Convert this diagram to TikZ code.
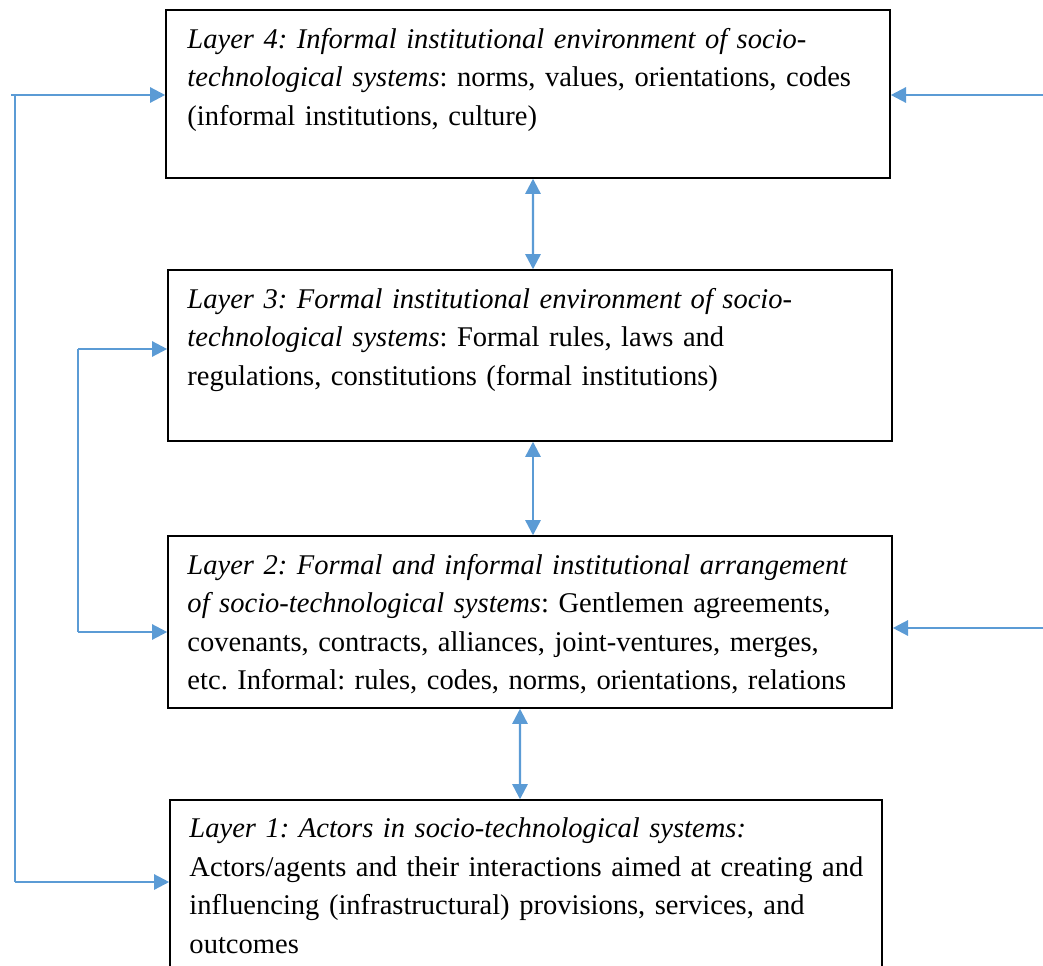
\documentclass[tikz,border=0pt]{standalone}
\usepackage{fontspec}
\setmainfont{Liberation Serif}
\usetikzlibrary{arrows.meta,calc}
\definecolor{linkblue}{HTML}{5B9BD5}

\begin{document}
\frenchspacing
\begin{tikzpicture}[x=0.025cm, y=-0.025cm,
    layerbox/.style={draw=black, line width=1pt, inner sep=0pt},
    layertext/.style={anchor=north west, inner sep=0pt, text width=17.6cm, align=left,
        font=\fontsize{20.3}{27.4}\selectfont},
    link/.style={draw=linkblue, line width=1.7pt},
    tip/.style={-{Triangle[length=0.38cm, width=0.38cm]}},
    dtip/.style={{Triangle[length=0.38cm, width=0.38cm]}-{Triangle[length=0.38cm, width=0.38cm]}}]
    \useasboundingbox (0,0) rectangle (1043,965);

    % the four layers
    \node[layerbox, minimum width=18.1cm, minimum height=4.2cm] (l4) at (528,94) {};
    \node[layerbox, minimum width=18.1cm, minimum height=4.275cm] (l3) at (530,355.5) {};
    \node[layerbox, minimum width=18.1cm, minimum height=4.3cm] (l2) at (530,622) {};
    \node[layerbox, minimum width=17.8cm, minimum height=5.0cm] (l1) at (526,900) {};

    \node[layertext] (t4) at ([shift={(0.55cm,-0.46cm)}]l4.north west)
        {\textit{Layer 4: Informal institutional environment of socio-}\\
         \textit{technological systems}: norms, values, orientations, codes\\
         (informal institutions, culture)};
    \node[layertext] (t3) at ([shift={(0.5cm,-0.46cm)}]l3.north west)
        {\textit{Layer 3: Formal institutional environment of socio-}\\
         \textit{technological systems}: Formal rules, laws and\\
         regulations, constitutions (formal institutions)};
    \node[layertext] (t2) at ([shift={(0.5cm,-0.46cm)}]l2.north west)
        {\textit{Layer 2: Formal and informal institutional arrangement}\\
         \textit{of socio-technological systems}: Gentlemen agreements,\\
         covenants, contracts, alliances, joint-ventures, merges,\\
         etc. Informal: rules, codes, norms, orientations, relations};
    \node[layertext] (t1) at ([shift={(0.5cm,-0.46cm)}]l1.north west)
        {\textit{Layer 1: Actors in socio-technological systems:}\\
         Actors/agents and their interactions aimed at creating and\\
         influencing (infrastructural) provisions, services, and\\
         outcomes};

    % double arrows between layers
    \draw[link, dtip] ([xshift=0.125cm]l4.south) -- ([xshift=0.075cm]l3.north);
    \draw[link, dtip] ([xshift=0.075cm]l3.south) -- ([xshift=0.075cm]l2.north);
    \draw[link, dtip] ([xshift=-0.25cm]l2.south) -- ([xshift=-0.15cm]l1.north);

    % outer feedback on the left
    \coordinate (fa) at (15,95);
    \coordinate (fb) at (15,882);
    \draw[link, tip] (11,95) -- (fa -| l4.west);
    \draw[link] (fa) -- (fb);
    \draw[link, tip] (fb) -- (fb -| l1.west);

    % inner feedback on the left
    \coordinate (ga) at (78,349);
    \coordinate (gb) at (78,632);
    \draw[link, tip] (ga) -- (ga -| l3.west);
    \draw[link] (ga) -- (gb);
    \draw[link, tip] (gb) -- (gb -| l2.west);

    % inputs from the right
    \coordinate (ha) at (1043,95);
    \coordinate (hb) at (1043,628);
    \draw[link, tip] (ha) -- (ha -| l4.east);
    \draw[link, tip] (hb) -- (hb -| l2.east);
\end{tikzpicture}
\end{document}
